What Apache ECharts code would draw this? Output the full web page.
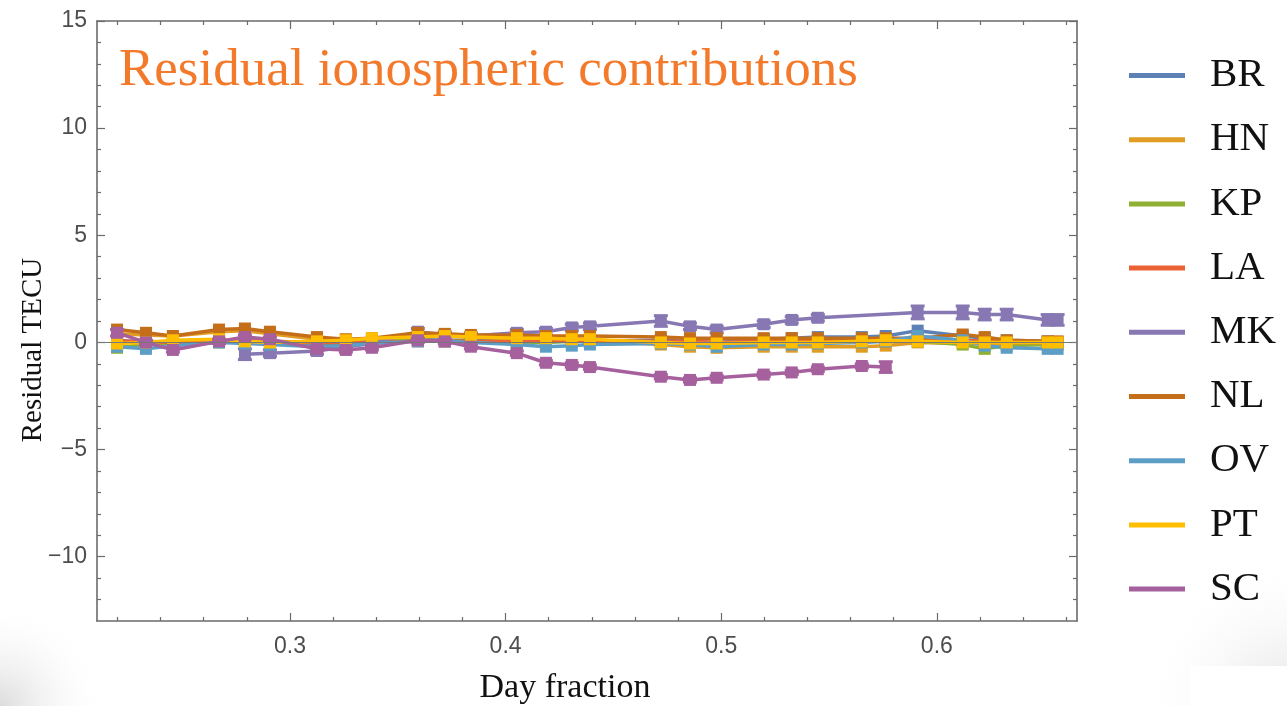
<!DOCTYPE html>
<html>
<head>
<meta charset="utf-8">
<script src="https://cdn.jsdelivr.net/npm/echarts@6/dist/echarts.min.js"></script>
<style>html,body{margin:0;padding:0;background:#fff;}#c{width:1287px;height:706px;}</style>
</head>
<body>
<div id="c"></div>
<script>
const days = [0.2198, 0.2332, 0.2457, 0.2671, 0.2791, 0.2907, 0.3125, 0.3259, 0.3380, 0.3593, 0.3718, 0.3839, 0.4052, 0.4187, 0.4307, 0.4391, 0.4720, 0.4855, 0.4979, 0.5197, 0.5327, 0.5448, 0.5652, 0.5763, 0.5911, 0.6120, 0.6222, 0.6324, 0.6514, 0.6560];
const BR = [0.1, 0.0, 0.0, 0.1, 0.1, 0.05, -0.1, -0.05, 0.0, 0.15, 0.1, 0.1, 0.05, 0.05, 0.05, 0.05, 0.1, 0.05, 0.0, 0.15, 0.2, 0.25, 0.25, 0.3, 0.55, 0.3, 0.2, 0.1, 0.05, 0.0];
const HN = [0.4, 0.35, 0.3, 0.5, 0.55, 0.4, 0.15, 0.1, 0.15, 0.35, 0.3, 0.25, 0.2, 0.15, 0.1, 0.1, -0.1, -0.2, -0.25, -0.2, -0.2, -0.2, -0.2, -0.15, 0.0, -0.05, -0.05, -0.05, -0.1, -0.1];
const KP = [-0.25, -0.1, -0.05, 0.0, 0.05, 0.0, 0.0, 0.0, 0.05, 0.1, 0.05, 0.05, 0.0, 0.0, 0.05, 0.05, 0.0, 0.0, -0.05, 0.0, 0.0, 0.05, 0.05, 0.1, 0.05, -0.1, -0.3, -0.15, -0.1, -0.1];
const LA = [0.05, 0.05, 0.0, 0.05, 0.05, 0.05, 0.0, 0.0, 0.0, 0.05, 0.05, 0.05, 0.05, 0.05, 0.05, 0.05, 0.05, 0.05, 0.0, 0.05, 0.05, 0.05, 0.05, 0.05, 0.2, 0.1, 0.05, 0.0, 0.0, 0.0];
const MK = [null, null, null, null, -0.55, -0.5, -0.4, -0.2, -0.05, 0.5, 0.35, 0.3, 0.45, 0.5, 0.7, 0.75, 1.0, 0.75, 0.6, 0.85, 1.05, 1.15, null, null, 1.4, 1.4, 1.3, 1.3, 1.05, 1.05];
const MK_err = [null, null, null, null, 0.25, 0.15, 0.15, 0.15, 0.15, 0.15, 0.15, 0.15, 0.15, 0.15, 0.15, 0.15, 0.25, 0.15, 0.15, 0.15, 0.15, 0.15, null, null, 0.3, 0.3, 0.25, 0.25, 0.25, 0.25];
const NL = [0.6, 0.45, 0.3, 0.6, 0.65, 0.5, 0.25, 0.15, 0.2, 0.45, 0.4, 0.35, 0.35, 0.3, 0.3, 0.3, 0.25, 0.2, 0.2, 0.2, 0.2, 0.2, 0.2, 0.2, 0.2, 0.37, 0.25, 0.1, 0.05, 0.05];
const OV = [-0.2, -0.3, -0.15, 0.0, -0.05, -0.1, -0.2, -0.15, -0.05, 0.05, 0.05, 0.0, -0.1, -0.2, -0.15, -0.1, -0.05, -0.1, -0.2, -0.1, -0.1, -0.05, 0.0, 0.05, 0.3, 0.1, -0.15, -0.25, -0.3, -0.3];
const PT = [-0.05, 0.0, 0.1, 0.15, 0.05, 0.0, 0.05, 0.1, 0.2, 0.25, 0.3, 0.25, 0.2, 0.2, 0.15, 0.15, 0.0, -0.05, -0.05, 0.0, 0.0, 0.0, 0.05, 0.1, 0.05, 0.0, 0.0, 0.0, 0.0, 0.0];
const SC = [0.45, 0.0, -0.35, 0.05, 0.25, 0.15, -0.3, -0.35, -0.25, 0.1, 0.05, -0.2, -0.5, -0.95, -1.05, -1.15, -1.6, -1.75, -1.65, -1.5, -1.4, -1.25, -1.1, -1.15, null, null, null, null, null, null];
const SC_err = [0.15, 0.1, 0.1, 0.1, 0.1, 0.1, 0.1, 0.1, 0.1, 0.1, 0.1, 0.1, 0.1, 0.1, 0.1, 0.1, 0.1, 0.1, 0.1, 0.1, 0.1, 0.1, 0.1, 0.25, null, null, null, null, null, null];

const stations = ['BR', 'HN', 'KP', 'LA', 'MK', 'NL', 'OV', 'PT', 'SC'];
const stationValues = [BR, HN, KP, LA, MK, NL, OV, PT, SC];
const stationErrors = [null, null, null, null, MK_err, null, null, null, SC_err];
const colors = ['#5E81B5', '#E19C24', '#8FB032', '#EB6235', '#8778B3', '#C56E1A', '#5D9EC7', '#FFBF00', '#A5609D'];

const xLabels = [0.3, 0.4, 0.5, 0.6];
const xMinor = [0.22, 0.24, 0.26, 0.28, 0.32, 0.34, 0.36, 0.38, 0.42, 0.44, 0.46, 0.48, 0.52, 0.54, 0.56, 0.58, 0.62, 0.64, 0.66];
const yLabels = [-10, -5, 0, 5, 10, 15];
const yMinor = [-12, -11, -9, -8, -7, -6, -4, -3, -2, -1, 1, 2, 3, 4, 6, 7, 8, 9, 11, 12, 13, 14];
const X_MIN = 0.2105, X_MAX = 0.665, Y_MIN = -13, Y_MAX = 15;

const frameColor = '#6b6b6b';
const labelFont = { color: '#4d4d4d', fontFamily: 'Liberation Sans, Arial, sans-serif', fontSize: 23 };

function xAxisDef(pos, minor, withLabel) {
  return {
    type: 'value', position: pos, min: X_MIN, max: X_MAX,
    axisLine: { show: !minor, onZero: false, lineStyle: { color: frameColor, width: 1.6 } },
    axisTick: { show: true, inside: true, length: minor ? 4 : 8, customValues: minor ? xMinor : xLabels, lineStyle: { color: frameColor, width: 1.2 } },
    axisLabel: withLabel ? Object.assign({ show: true, customValues: xLabels, margin: 14, formatter: v => v.toFixed(1) }, labelFont) : { show: false },
    splitLine: { show: false }
  };
}
function yAxisDef(pos, minor, withLabel) {
  return {
    type: 'value', position: pos, min: Y_MIN, max: Y_MAX,
    axisLine: { show: !minor, onZero: false, lineStyle: { color: frameColor, width: 1.6 } },
    axisTick: { show: true, inside: true, length: minor ? 4 : 8, customValues: minor ? yMinor : yLabels, lineStyle: { color: frameColor, width: 1.2 } },
    axisLabel: withLabel ? Object.assign({ show: true, customValues: yLabels, margin: 10, formatter: v => String(v).replace('-', '\u2212') }, labelFont) : { show: false },
    splitLine: { show: false }
  };
}

const series = [];
stations.forEach((name, i) => {
  const pts = days.map((d, k) => stationValues[i][k] === null ? null : [d, stationValues[i][k]]).filter(p => p);
  series.push({
    name: name, type: 'line', data: pts, color: colors[i],
    symbol: 'rect', symbolSize: 12, showSymbol: true,
    lineStyle: { width: 3.5, color: colors[i] }, itemStyle: { color: colors[i] },
    z: 2 + i, animation: false,
    markLine: i === 0 ? { silent: true, symbol: 'none', label: { show: false }, lineStyle: { color: '#777', width: 1, type: 'solid' }, data: [{ yAxis: 0 }], z: 20 } : undefined
  });
  if (stationErrors[i]) {
    const edata = days.map((d, k) => stationErrors[i][k] === null || stationValues[i][k] === null ? null : [d, stationValues[i][k], stationErrors[i][k]]).filter(p => p);
    series.push({
      name: name, type: 'custom', data: edata, z: 2 + i, animation: false,
      renderItem: function (params, api) {
        const x = api.value(0), y = api.value(1), e = api.value(2);
        const top = api.coord([x, y + e]);
        const bot = api.coord([x, y - e]);
        const hw = 7;
        const st = { stroke: colors[i], lineWidth: 3 };
        return { type: 'group', children: [
          { type: 'line', shape: { x1: top[0], y1: top[1], x2: bot[0], y2: bot[1] }, style: st },
          { type: 'line', shape: { x1: top[0] - hw, y1: top[1], x2: top[0] + hw, y2: top[1] }, style: st },
          { type: 'line', shape: { x1: bot[0] - hw, y1: bot[1], x2: bot[0] + hw, y2: bot[1] }, style: st }
        ] };
      }
    });
  }
});

const chart = echarts.init(document.getElementById('c'), null, { renderer: 'canvas' });
chart.setOption({
  backgroundColor: '#fff',
  animation: false,
  graphic: [
    { type: 'rect', z: -10, silent: true, shape: { x: 0, y: 600, width: 160, height: 106 },
      style: { fill: new echarts.graphic.RadialGradient(0, 1, 1, [{ offset: 0, color: '#dcdcdc' }, { offset: 1, color: 'rgba(255,255,255,0)' }]) } },
    { type: 'rect', z: -10, silent: true, shape: { x: 1060, y: 560, width: 227, height: 146 },
      style: { fill: new echarts.graphic.RadialGradient(1, 1, 1, [{ offset: 0, color: '#e2e2e2' }, { offset: 1, color: 'rgba(255,255,255,0)' }]) } },
    { type: 'rect', z: -9, silent: true, shape: { x: 1190, y: 666, width: 97, height: 40 }, style: { fill: '#ffffff' } },
    { type: 'text', left: 119, top: 45, z: 50, style: { text: 'Residual ionospheric contributions', fill: '#F37A2B', font: '53px "Liberation Serif", serif' } },
    { type: 'text', z: 50, x: 33, y: 350, rotation: Math.PI / 2, style: { text: 'Residual TECU', fill: '#111', font: '29px "Liberation Serif", serif', align: 'center', verticalAlign: 'middle' } },
    { type: 'text', z: 50, x: 565, y: 688, style: { text: 'Day fraction', fill: '#111', font: '34px "Liberation Serif", serif', align: 'center', verticalAlign: 'middle' } }
  ],
  grid: { left: 97, right: 210, top: 21, bottom: 85, show: true, backgroundColor: '#fff', borderWidth: 0 },
  legend: {
    orient: 'vertical', left: 1124, top: 50, itemWidth: 56, itemHeight: 5, itemGap: 23.2, icon: 'rect',
    data: stations,
    textStyle: { fontFamily: 'Liberation Serif, serif', fontSize: 41, color: '#111', lineHeight: 40, padding: [0, 0, 0, 20] }
  },
  xAxis: [xAxisDef('bottom', false, true), xAxisDef('bottom', true, false), xAxisDef('top', false, false), xAxisDef('top', true, false)],
  yAxis: [yAxisDef('left', false, true), yAxisDef('left', true, false), yAxisDef('right', false, false), yAxisDef('right', true, false)],
  series: series
});
</script>
</body>
</html>
